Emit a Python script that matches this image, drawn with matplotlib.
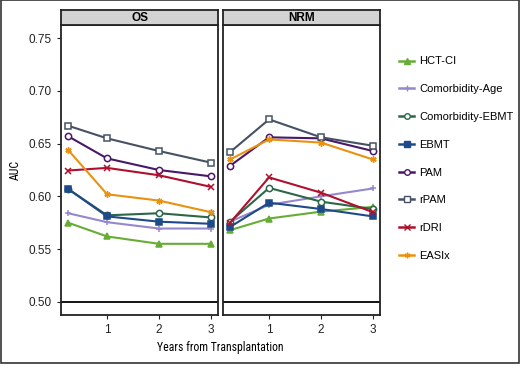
import matplotlib
matplotlib.use("Agg")
import matplotlib.pyplot as plt
from matplotlib import font_manager
from matplotlib.lines import Line2D
from matplotlib.patches import Rectangle

years = [0.25, 1, 2, 3]
panels = ["OS", "NRM"]
scores = ["HCT-CI", "Comorbidity-Age", "Comorbidity-EBMT", "EBMT",
          "PAM", "rPAM", "rDRI", "EASIx"]

os_auc = {
    "HCT-CI": [0.575, 0.562, 0.555, 0.555],
    "Comorbidity-Age": [0.584, 0.5755, 0.5695, 0.5695],
    "Comorbidity-EBMT": [0.607, 0.582, 0.584, 0.580],
    "EBMT": [0.607, 0.581, 0.576, 0.574],
    "PAM": [0.657, 0.636, 0.625, 0.619],
    "rPAM": [0.667, 0.655, 0.643, 0.632],
    "rDRI": [0.6245, 0.627, 0.620, 0.609],
    "EASIx": [0.644, 0.602, 0.596, 0.585],
}
nrm_auc = {
    "HCT-CI": [0.568, 0.579, 0.5855, 0.590],
    "Comorbidity-Age": [0.576, 0.592, 0.600, 0.6075],
    "Comorbidity-EBMT": [0.576, 0.608, 0.595, 0.588],
    "EBMT": [0.571, 0.594, 0.588, 0.581],
    "PAM": [0.629, 0.656, 0.655, 0.643],
    "rPAM": [0.642, 0.673, 0.656, 0.648],
    "rDRI": [0.575, 0.618, 0.6035, 0.585],
    "EASIx": [0.635, 0.654, 0.651, 0.635],
}

colors = {
    "HCT-CI": "#66ad35",
    "Comorbidity-Age": "#9688cc",
    "Comorbidity-EBMT": "#2b6748",
    "EBMT": "#1d4a88",
    "PAM": "#4a1868",
    "rPAM": "#465264",
    "rDRI": "#b0102c",
    "EASIx": "#ea920f",
}
markers = {
    "HCT-CI": ("^", True),
    "Comorbidity-Age": ("+", True),
    "Comorbidity-EBMT": ("o", False),
    "EBMT": ("s", True),
    "PAM": ("o", False),
    "rPAM": ("s", False),
    "rDRI": ("x", True),
    "EASIx": ((6, 2, 0), True),
}

plt.rcParams["font.family"] = ["Liberation Sans", "DejaVu Sans"]

# condensed font for the axis titles, if one is around
names = {f.name for f in font_manager.fontManager.ttflist}
narrow = [n for n in ["Liberation Sans Narrow", "Roboto Condensed", "DejaVu Sans Condensed"] if n in names]
title_family = narrow[:1] + ["Liberation Sans", "DejaVu Sans"]


def line_style(s, lw, ms, mew):
    mk, filled = markers[s]
    kw = dict(color=colors[s], lw=lw, ms=ms, marker=mk, mew=mew)
    if not filled:
        kw["mfc"] = "white"
    return kw


fig = plt.figure(figsize=(5.2, 3.67), dpi=100)
W, H = 520, 367
panel_x = [61, 223]
panel_w = 157
top, strip_h, bottom = 10, 15, 315

for i, (name, data) in enumerate(zip(panels, [os_auc, nrm_auc])):
    ax = fig.add_axes([panel_x[i] / W, 1 - bottom / H, panel_w / W, (bottom - top - strip_h) / H])
    for s in scores:
        ax.plot(years, data[s], **line_style(s, 1.5, 4.5, 1.1))
    ax.axhline(0.5, color="black", lw=1.3)
    ax.set_xlim(0.1125, 3.1375)
    ax.set_ylim(0.4875, 0.7625)
    ax.set_xticks([1, 2, 3])
    ax.set_yticks([0.50, 0.55, 0.60, 0.65, 0.70, 0.75])
    ax.tick_params(direction="out", length=3, width=0.8, labelsize=8.5,
                   colors="#222222", labelcolor="#222222")
    if i == 0:
        ax.set_yticklabels(["0.50", "0.55", "0.60", "0.65", "0.70", "0.75"])
        ax.set_ylabel("AUC", fontsize=8.5, family=title_family, labelpad=5)
    else:
        ax.tick_params(axis="y", left=False, labelleft=False)
    for sp in ax.spines.values():
        sp.set_linewidth(1.3)
        sp.set_color("#222222")
    # facet strip
    sax = fig.add_axes([panel_x[i] / W, 1 - (top + strip_h) / H, panel_w / W, strip_h / H])
    sax.set_facecolor("#d3d3d3")
    sax.set_xticks([])
    sax.set_yticks([])
    for sp in sax.spines.values():
        sp.set_linewidth(1.3)
        sp.set_color("#222222")
    sax.text(0.5, 0.45, name, ha="center", va="center", fontsize=8.5, fontweight="bold",
             transform=sax.transAxes)

fig.text((61 + 380) / 2 / W, 1 - 348 / H, "Years from Transplantation", ha="center", va="center",
         fontsize=8.5, family=title_family)

handles = [Line2D([], [], **line_style(s, 1.8, 4, 1.0)) for s in scores]
fig.legend(handles, scores, loc="upper left", bbox_to_anchor=(395 / W, 1 - 52 / H),
           frameon=False, fontsize=8, handlelength=1.3, handletextpad=0.5,
           labelspacing=1.6, borderaxespad=0)

fig.patches.append(Rectangle((0.001, 0.012), 0.998, 0.987, transform=fig.transFigure,
                             fill=False, edgecolor="#333333", lw=1.2))

fig.savefig("out.png", dpi=100)
